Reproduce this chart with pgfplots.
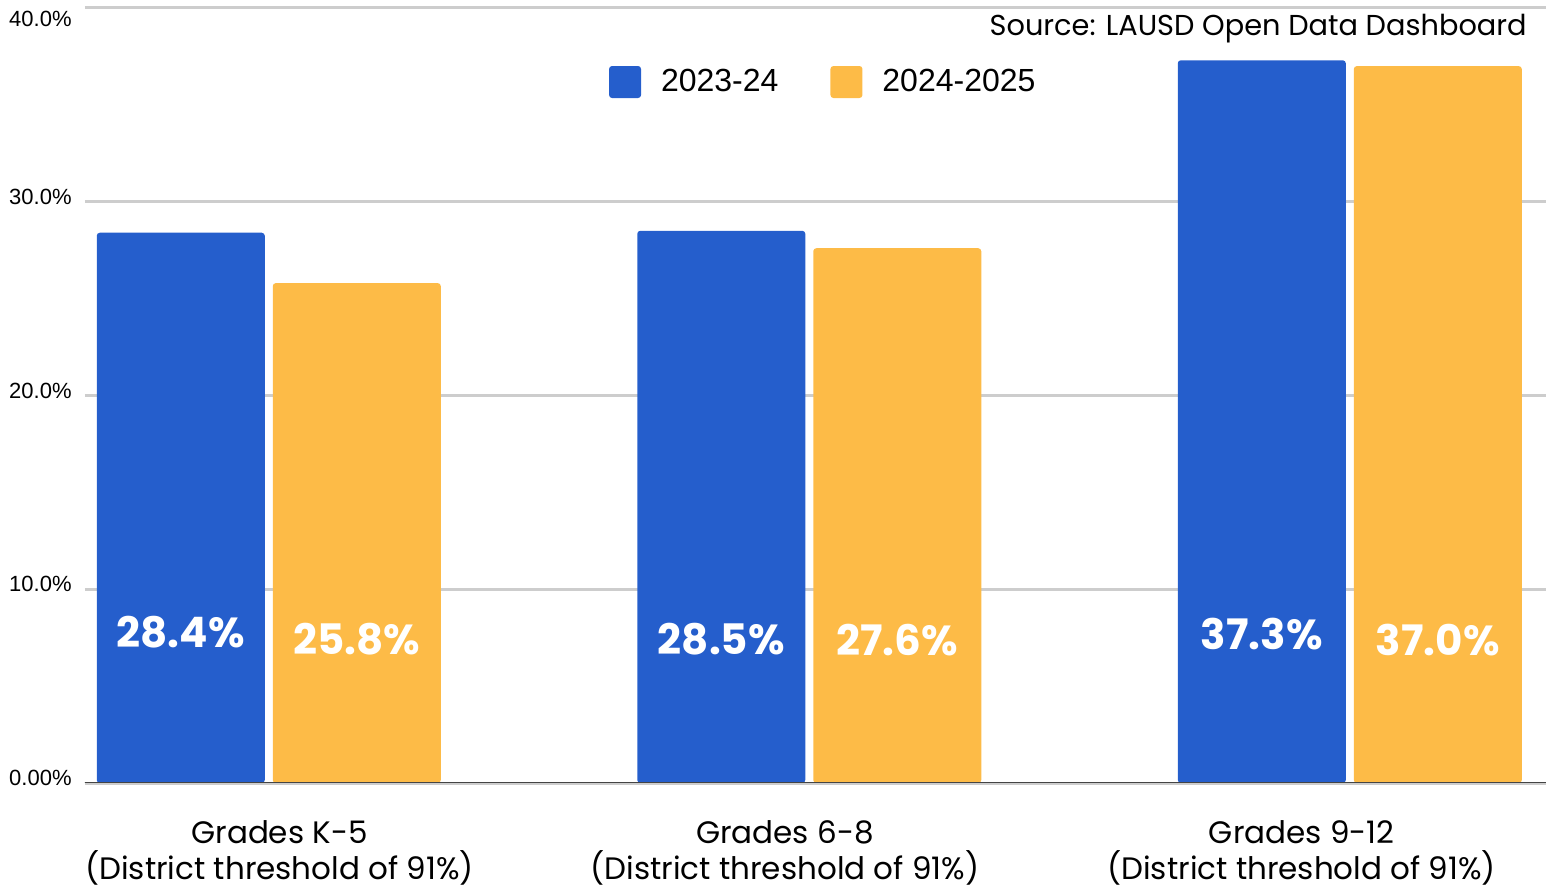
\documentclass[border=0pt]{standalone}
\usepackage{pgfplots}
\pgfplotsset{compat=1.18}
\usepackage{fontspec}
\setmainfont{Liberation Sans}
\newfontfamily\poppins{Poppins}
\definecolor{cblue}{HTML}{255ECC}
\definecolor{corange}{HTML}{FDBB47}
\definecolor{cgrid}{HTML}{CDCDCD}
\definecolor{caxis}{HTML}{444444}
\begin{document}
\begin{tikzpicture}
\begin{axis}[
  scale only axis, width=730.5bp, height=387.5bp,
  xmin=-0.340, xmax=2.363, ymin=0, ymax=40,
  axis line style={draw=none},
  major tick length=0pt,
  ytick={0,10,20,30},
  yticklabels={0.00\%,10.0\%,20.0\%,30.0\%},
  extra y ticks={40}, extra y tick labels={40.0\%},
  extra y tick style={yticklabel style={yshift=-8bp}},
  ymajorgrids, grid style={cgrid, line width=1.5bp},
  yticklabel style={font=\fontsize{11bp}{13bp}\selectfont, anchor=east, inner sep=0pt, xshift=-6.5bp, yshift=2.5bp},
  xtick={0.020,0.955,1.911},
  xticklabels={{Grades K-5\\(District threshold of 91\%)},{Grades 6-8\\(District threshold of 91\%)},{Grades 9-12\\(District threshold of 91\%)}},
  xticklabel style={font=\poppins\fontsize{15.5bp}{18bp}\selectfont, align=center, anchor=north, inner sep=0pt, yshift=-18.5bp},
  ybar, bar width=84bp,
  legend style={at={(rel axis cs:0.506,0.9045)}, anchor=center, draw=none, fill=none, legend columns=2,
    font=\fontsize{16bp}{18bp}\selectfont,
    /tikz/every odd column/.append style={column sep=8bp},
    /tikz/every even column/.append style={column sep=24bp}},
  legend image code/.code={\fill[#1, rounded corners=1.5bp] (0bp,-8bp) rectangle (16bp,8bp);},
]
\coordinate (ll) at (rel axis cs:0,0);
\coordinate (ur) at (rel axis cs:1,1);
\addplot[fill=cblue, draw=none, bar shift=-44bp, rounded corners=1.5bp] coordinates {(0,28.4) (1,28.5) (2,37.3)};
\addlegendentry{2023-24}
\addplot[fill=corange, draw=none, bar shift=44bp, rounded corners=1.5bp] coordinates {(0,25.8) (1,27.6) (2,37.0)};
\addlegendentry{2024-2025}
\addplot[draw=none, fill=none, bar shift=-44bp, forget plot, point meta=explicit symbolic, nodes near coords,
  every node near coord/.append style={anchor=center, text=white, font=\poppins\bfseries\fontsize{21bp}{21bp}\selectfont}]
  coordinates {(0,7.8)[28.4\%] (1,7.4)[28.5\%] (2,7.7)[37.3\%]};
\addplot[draw=none, fill=none, bar shift=44bp, forget plot, point meta=explicit symbolic, nodes near coords,
  every node near coord/.append style={anchor=center, text=white, font=\poppins\bfseries\fontsize{21bp}{21bp}\selectfont}]
  coordinates {(0,7.4)[25.8\%] (1,7.4)[27.6\%] (2,7.4)[37.0\%]};
\draw[caxis, line width=1.5bp] ([xshift=-6bp]rel axis cs:0,0) -- (rel axis cs:1,0);
\node[anchor=east, font=\poppins\fontsize{14.4bp}{16bp}\selectfont, inner sep=0pt] at (rel axis cs:0.987,0.974) {Source: LAUSD Open Data Dashboard};
\end{axis}
\pgfresetboundingbox
\path ([shift={(-42.5bp,-54.5bp)}]ll) rectangle ([shift={(0bp,4bp)}]ur);
\end{tikzpicture}
\end{document}
